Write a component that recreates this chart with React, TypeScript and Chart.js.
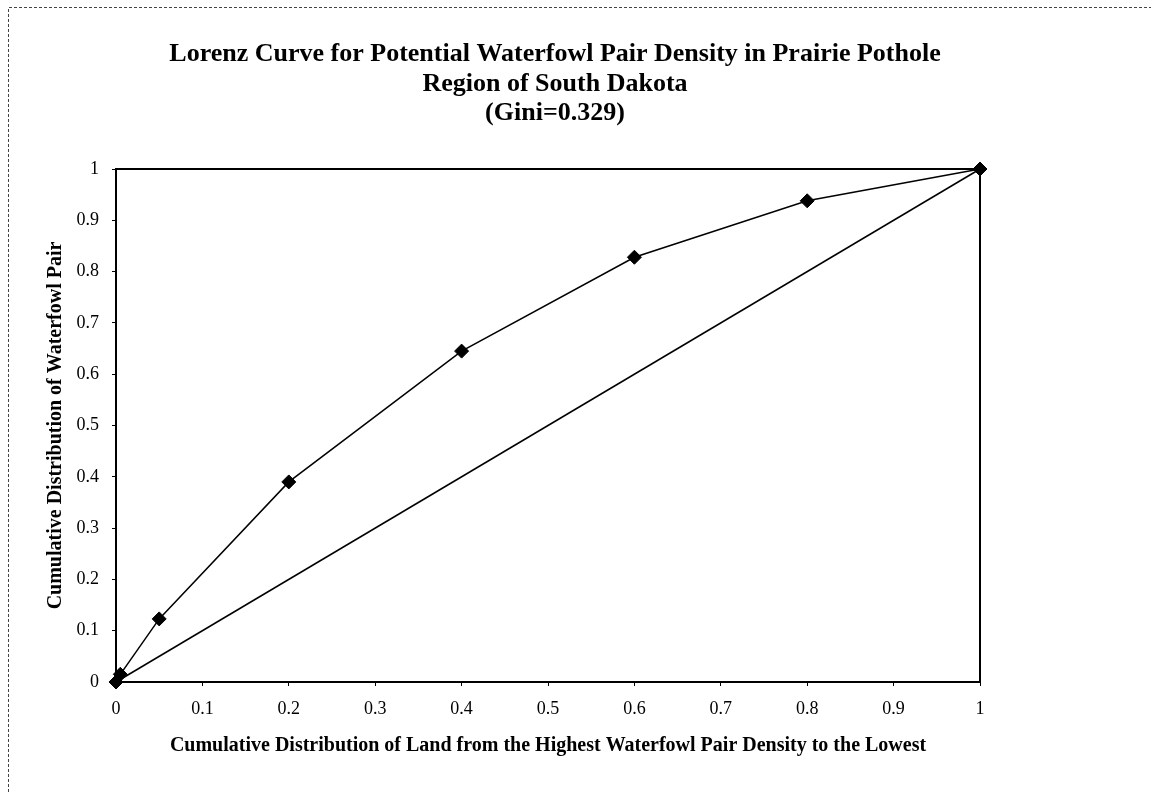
import React, { useEffect, useRef } from "react";
import { Chart, registerables } from "chart.js";

Chart.register(...registerables);

const titleLines = [
  "Lorenz Curve for Potential Waterfowl Pair Density in Prairie Pothole",
  "Region of South Dakota",
  "(Gini=0.329)",
];
const xAxisTitle =
  "Cumulative Distribution of Land from the Highest Waterfowl Pair Density to the Lowest";
const yAxisTitle = "Cumulative Distribution of Waterfowl Pair";

const landShare = [0, 0.005, 0.05, 0.2, 0.4, 0.6, 0.8, 1];
const pairShare = [0, 0.015, 0.123, 0.39, 0.645, 0.828, 0.938, 1];
const equalityX = [0, 1];
const equalityY = [0, 1];

const xTickLabels = ["0", "0.1", "0.2", "0.3", "0.4", "0.5", "0.6", "0.7", "0.8", "0.9", "1"];
const yTickLabels = ["0", "0.1", "0.2", "0.3", "0.4", "0.5", "0.6", "0.7", "0.8", "0.9", "1"];

const FONT = "'Liberation Serif', 'Times New Roman', serif";

const framePlugin = {
  id: "frame",
  beforeDraw(chart: any) {
    const { ctx, width, height } = chart;
    ctx.save();
    ctx.fillStyle = "#ffffff";
    ctx.fillRect(0, 0, width, height);
    ctx.strokeStyle = "#444";
    ctx.lineWidth = 1;
    ctx.setLineDash([3, 2]);
    ctx.beginPath();
    ctx.moveTo(8.5, height + 10);
    ctx.lineTo(8.5, 7.5);
    ctx.lineTo(width + 10, 7.5);
    ctx.stroke();
    ctx.restore();
  },
  beforeDatasetsDraw(chart: any) {
    const { ctx, chartArea } = chart;
    ctx.save();
    ctx.strokeStyle = "#000";
    ctx.lineWidth = 2;
    ctx.beginPath();
    ctx.moveTo(chartArea.left, chartArea.top);
    ctx.lineTo(chartArea.right, chartArea.top);
    ctx.lineTo(chartArea.right, chartArea.bottom);
    ctx.stroke();
    ctx.restore();
  },
};

export default function App() {
  const ref = useRef<HTMLCanvasElement | null>(null);

  useEffect(() => {
    if (!ref.current) return;
    const chart = new Chart(ref.current, {
      type: "line",
      data: {
        datasets: [
          {
            label: "Equality",
            data: equalityX.map((x, i) => ({ x, y: equalityY[i] })),
            borderColor: "#000",
            backgroundColor: "#000",
            borderWidth: 1.5,
            pointRadius: 0,
            tension: 0,
            clip: false,
          },
          {
            label: "Lorenz curve",
            data: landShare.map((x, i) => ({ x, y: pairShare[i] })),
            borderColor: "#000",
            backgroundColor: "#000",
            borderWidth: 1.5,
            pointStyle: "rectRot",
            pointRadius: 7,
            pointBorderWidth: 1,
            tension: 0,
            clip: false,
          },
        ],
      },
      options: {
        responsive: false,
        animation: false,
        devicePixelRatio: 1,
        layout: { padding: { left: 0, right: 41, top: 0, bottom: 0 } },
        plugins: {
          legend: { display: false },
          tooltip: { enabled: false },
          title: {
            display: true,
            text: titleLines,
            color: "#000",
            font: { family: FONT, size: 26, weight: "bold", lineHeight: 29.5 / 26 },
            padding: { top: 40, bottom: 40.5 },
          },
        },
        scales: {
          x: {
            type: "linear",
            min: 0,
            max: 1,
            afterFit: (s: any) => {
              s.height = 110;
            },
            ticks: {
              stepSize: 0.1,
              color: "#000",
              padding: 12,
              font: { family: FONT, size: 18 },
              callback: (v: any, i: number) => xTickLabels[i] ?? String(v),
            },
            grid: { drawOnChartArea: false, drawTicks: true, tickLength: 4, color: "#000" },
            border: { color: "#000", width: 2 },
            title: {
              display: true,
              text: xAxisTitle,
              color: "#000",
              font: { family: FONT, size: 20, weight: "bold" },
              padding: { top: 0, bottom: 34 },
            },
          },
          y: {
            type: "linear",
            min: 0,
            max: 1,
            afterFit: (s: any) => {
              s.width = 116;
            },
            ticks: {
              stepSize: 0.1,
              color: "#000",
              padding: 13,
              font: { family: FONT, size: 18 },
              callback: (v: any, i: number) => yTickLabels[i] ?? String(v),
            },
            grid: { drawOnChartArea: false, drawTicks: true, tickLength: 4, color: "#000" },
            border: { color: "#000", width: 2 },
            title: {
              display: true,
              text: yAxisTitle,
              color: "#000",
              font: { family: FONT, size: 20, weight: "bold" },
              padding: { top: 44, bottom: 0 },
            },
          },
          spacer: {
            type: "linear",
            position: "right",
            min: 0,
            max: 1,
            display: true,
            afterFit: (s: any) => {
              s.width = 130;
            },
            ticks: { display: false },
            grid: { display: false },
            border: { display: false },
          },
        },
      },
      plugins: [framePlugin],
    });
    return () => chart.destroy();
  }, []);

  return (
    <div style={{ position: "absolute", left: 0, top: 0, width: 1151, height: 792 }}>
      <canvas ref={ref} width={1151} height={792} style={{ width: 1151, height: 792, display: "block" }} />
    </div>
  );
}
